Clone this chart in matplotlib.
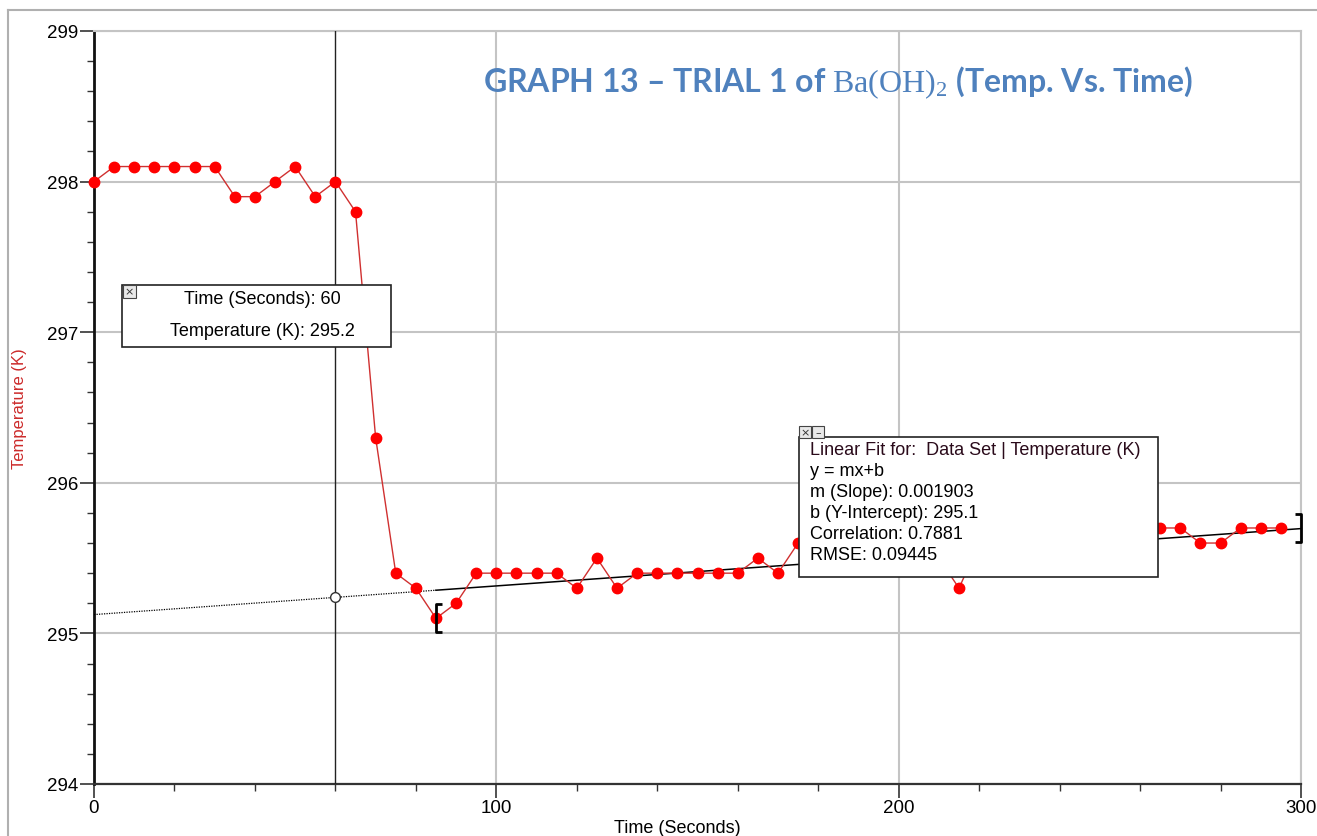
import numpy as np
import matplotlib
matplotlib.use("Agg")
import matplotlib.pyplot as plt
from matplotlib.path import Path
from matplotlib.patches import Rectangle
from matplotlib.lines import Line2D

plt.rcParams['font.family'] = ['Liberation Sans', 'DejaVu Sans']
plt.rcParams['mathtext.fontset'] = 'custom'
plt.rcParams['mathtext.rm'] = 'Liberation Serif'

## Data
time_s = list(range(0, 300, 5))
temp_k = [298.0, 298.1, 298.1, 298.1, 298.1, 298.1, 298.1, 297.9, 297.9, 298.0,
          298.1, 297.9, 298.0, 297.8, 296.3, 295.4, 295.3, 295.1, 295.2, 295.4,
          295.4, 295.4, 295.4, 295.4, 295.3, 295.5, 295.3, 295.4, 295.4, 295.4,
          295.4, 295.4, 295.4, 295.5, 295.4, 295.6, 295.7, 295.6, 295.6, 295.7,
          295.6, 295.6, 295.5, 295.3, 295.6, 295.6, 295.7, 295.6, 295.7, 295.6,
          295.7, 295.7, 295.7, 295.7, 295.7, 295.6, 295.6, 295.7, 295.7, 295.7]

fit_m = 0.001903
fit_b = 295.125
fit_range = [85, 300]
fit_ends = [295.1, 295.7]   # where the range brackets sit
cursor_t = 60
fit_stats = ["Linear Fit for:  Data Set | Temperature (K)", "y = mx+b",
             "m (Slope): 0.001903", "b (Y-Intercept): 295.1",
             "Correlation: 0.7881", "RMSE: 0.09445"]

W, H = 1317, 837
fig = plt.figure(figsize=(W / 100, H / 100), dpi=100)
ax = fig.add_axes([94 / W, 52 / H, (1301 - 94) / W, (785 - 32) / H])

def px(x, y):
    # pixel position -> figure fraction
    return x / W, 1 - y / H

## grid + axes
ax.set_xlim(0, 300)
ax.set_ylim(294, 299)
ax.set_xticks([0, 100, 200, 300])
ax.set_xticks(np.arange(0, 301, 20), minor=True)
ax.set_yticks([294, 295, 296, 297, 298, 299])
ax.set_yticks(np.arange(294, 299.01, 0.2), minor=True)
ax.grid(True, which='major', color='#c4c4c4', lw=1.5, zorder=0)
ax.tick_params(which='major', length=10, width=1.2, labelsize=13.5, color='#333333', pad=1)
ax.tick_params(which='minor', length=5, width=1.0, color='#333333')
ax.spines['left'].set_linewidth(2)
ax.spines['bottom'].set_linewidth(1.6)
ax.spines['left'].set_color('#111111')
ax.spines['bottom'].set_color('#333333')
for s in ['top', 'right']:
    ax.spines[s].set_color('#c4c4c4')
    ax.spines[s].set_linewidth(1.5)

## data
ax.plot(time_s, temp_k, color='#d03030', lw=1.0, marker='o', ms=7.5,
        mfc='#ff0000', mec='#ff0000', zorder=4, clip_on=False)

## linear fit: dotted outside the range, solid inside
xd = np.array([0, fit_range[0]])
xs = np.array(fit_range)
ax.plot(xd, fit_m * xd + fit_b, color='black', lw=0.9, ls=(0, (1, 1)), zorder=3)
ax.plot(xs, fit_m * xs + fit_b, color='black', lw=1.1, zorder=3)

lb = Path([(0.45, 1), (0, 1), (0, -1), (0.45, -1)], [1, 2, 2, 2])
rb = Path([(-0.45, 1), (0, 1), (0, -1), (-0.45, -1)], [1, 2, 2, 2])
ax.plot([fit_range[0]], [fit_ends[0]], marker=lb, ms=20, mew=2, color='black',
        fillstyle='none', ls='none', zorder=5)
ax.plot([fit_range[1]], [fit_ends[1]], marker=rb, ms=20, mew=2, color='black',
        fillstyle='none', ls='none', zorder=5, clip_on=False)

## cursor
ax.axvline(cursor_t, color='#222222', lw=1.0, zorder=3)
ax.plot([cursor_t], [fit_m * cursor_t + fit_b], marker='o', ms=7, mfc='white',
        mec='#333333', mew=1, zorder=5)

## labels
ax.set_ylabel('Temperature (K)', color='#cc2a2a', fontsize=12)
ax.yaxis.set_label_coords(-(94 - 27) / (1301 - 94), 0.5)
fig.text(*px(677, 829), 'Time (Seconds)', ha='center', va='center', fontsize=13)

## outer frame
fig.add_artist(Line2D([8 / W, 1], [1 - 11 / H] * 2, color='#b0b0b0', lw=1.5))
fig.add_artist(Line2D([8 / W] * 2, [0, 1 - 11 / H], color='#b0b0b0', lw=1.5))

## title
fig.text(*px(838, 83), r'GRAPH 13 – TRIAL 1 of $\mathrm{Ba(OH)_2}$ (Temp. Vs. Time)',
         ha='center', va='center', fontsize=23, fontweight='bold', color='#4f81bd',
         fontfamily=['Lato', 'DejaVu Sans'])

## readout boxes
def box(x0, y0, x1, y1):
    fig.add_artist(Rectangle(px(x0, y1), (x1 - x0) / W, (y1 - y0) / H,
                             transform=fig.transFigure, facecolor='white',
                             edgecolor='#222222', lw=1.2, zorder=10))

def icon(x0, y0, s, sym):
    fig.add_artist(Rectangle(px(x0, y0 + s), s / W, s / H, transform=fig.transFigure,
                             facecolor='#e8e8e8', edgecolor='#444444', lw=0.8, zorder=11))
    fig.text(*px(x0 + s / 2, y0 + s / 2), sym, ha='center', va='center',
             fontsize=8, color='#333333', zorder=12, fontfamily='DejaVu Sans')

box(122, 286, 391, 348)
icon(123, 286, 13, '×')
fig.text(*px(262, 300), 'Time (Seconds): %d' % cursor_t, ha='center', va='center',
         fontsize=13, zorder=12)
fig.text(*px(262, 332), 'Temperature (K): %.1f' % (fit_m * cursor_t + fit_b),
         ha='center', va='center', fontsize=13, zorder=12)

box(799, 438, 1158, 578)
icon(799, 427, 12, '×')
icon(812, 427, 12, '–')
for i, line in enumerate(fit_stats):
    fig.text(*px(810, 451 + i * 20.8), line, ha='left', va='center', fontsize=13,
             zorder=12, color='#2a0a1a' if i == 0 else 'black')

fig.savefig('out.png', dpi=100)
